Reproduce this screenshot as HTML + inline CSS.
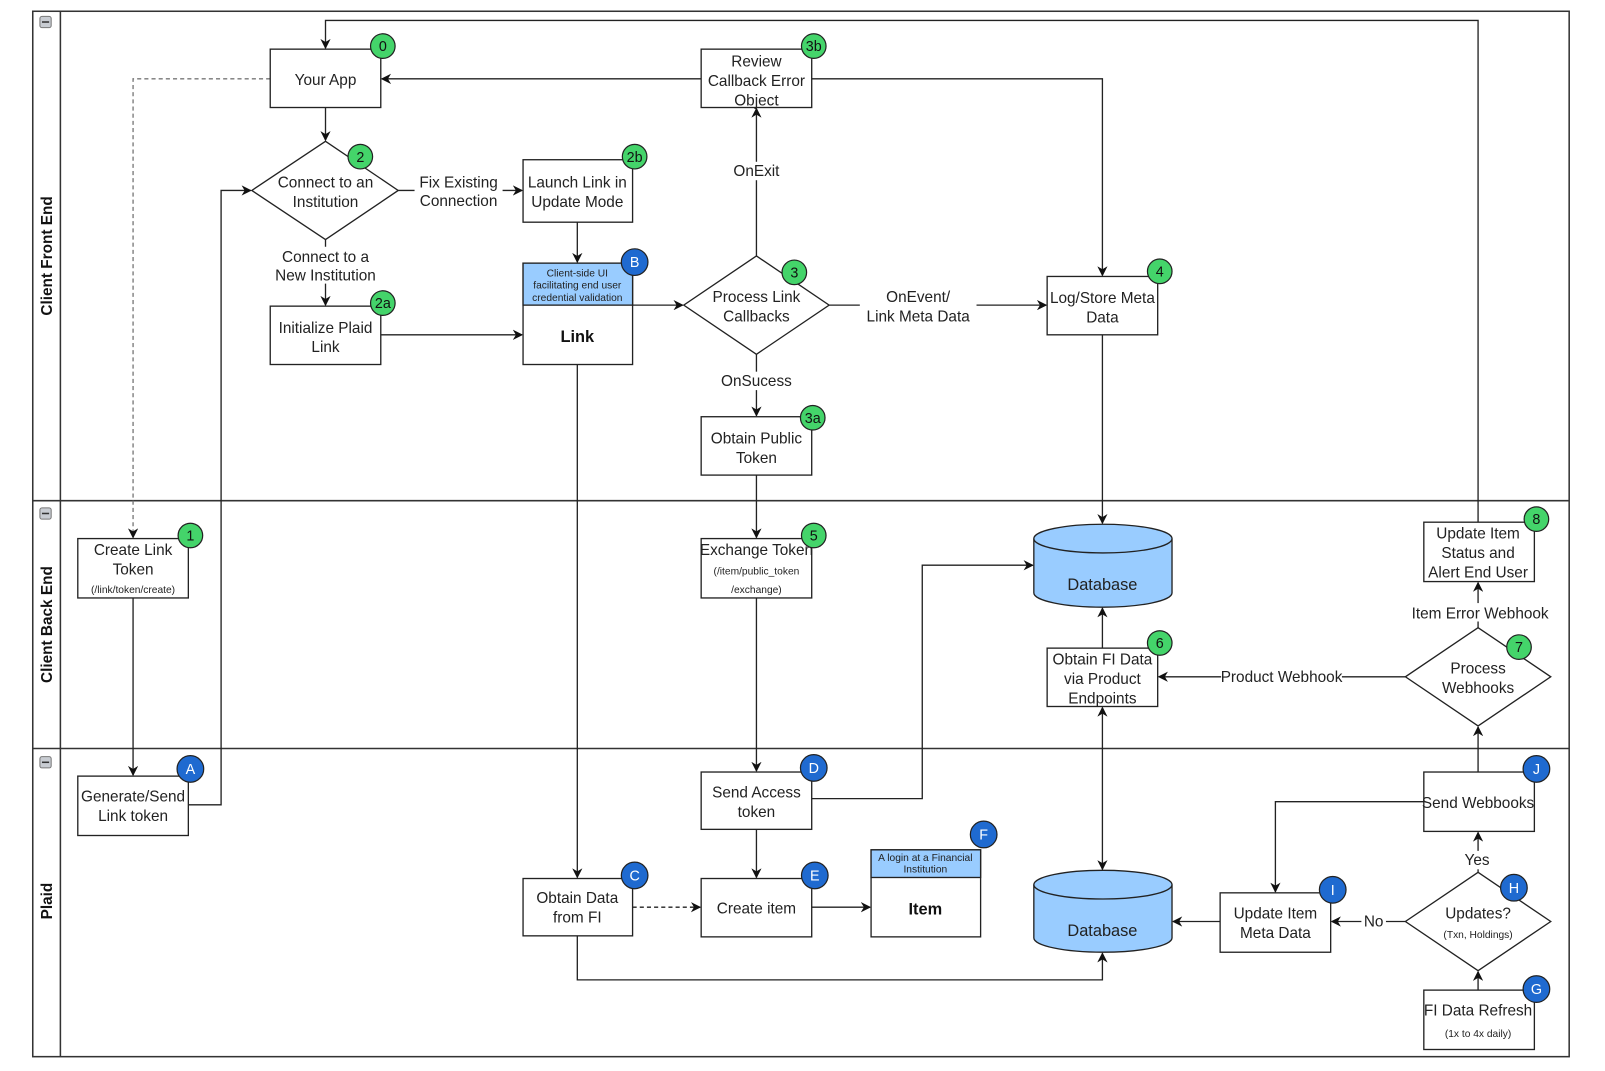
<!DOCTYPE html>
<html><head><meta charset="utf-8"><style>
html,body{margin:0;padding:0;background:#fff;}
svg{display:block;font-family:"Liberation Sans",Arial,sans-serif;}
.t{font-size:15px;fill:#222;text-anchor:middle;}
.s{font-size:10px;fill:#222;text-anchor:middle;}
.b{font-size:16px;font-weight:bold;fill:#111;text-anchor:middle;}
.bt{font-size:14px;fill:#111;text-anchor:middle;}
.bl{font-size:14px;fill:#fff;text-anchor:middle;}
.n{fill:#fff;stroke:#222;stroke-width:1.3;}
.l{fill:none;stroke:#222;stroke-width:1.3;}
.lane{font-size:15px;font-weight:bold;fill:#111;text-anchor:middle;}
</style></head><body>
<svg width="1605" height="1071" viewBox="0 0 1568 1046" preserveAspectRatio="none" xmlns="http://www.w3.org/2000/svg">
<defs>
<marker id="a" markerWidth="10" markerHeight="10" refX="9" refY="5" orient="auto" markerUnits="userSpaceOnUse">
<path d="M0,0 L10,5 L0,10 L3,5 Z" fill="#111"/></marker>
<marker id="as" markerWidth="10" markerHeight="10" refX="1" refY="5" orient="auto" markerUnits="userSpaceOnUse">
<path d="M10,0 L0,5 L10,10 L7,5 Z" fill="#111"/></marker>
</defs>
<!-- frame -->
<rect x="32" y="11" width="1501" height="1021" fill="#fff" stroke="#333" stroke-width="1.5"/>
<line x1="59" y1="11" x2="59" y2="1032" stroke="#333" stroke-width="1.5"/>
<line x1="32" y1="489" x2="1533" y2="489" stroke="#333" stroke-width="1.5"/>
<line x1="32" y1="731" x2="1533" y2="731" stroke="#333" stroke-width="1.5"/>
<g fill="#c8ccd2" stroke="#777" stroke-width="1">
<rect x="39" y="16" width="11" height="11" rx="2"/><rect x="39" y="496" width="11" height="11" rx="2"/><rect x="39" y="739" width="11" height="11" rx="2"/></g>
<g stroke="#333" stroke-width="1.5"><line x1="41" y1="21.5" x2="48" y2="21.5"/><line x1="41" y1="501.5" x2="48" y2="501.5"/><line x1="41" y1="744.5" x2="48" y2="744.5"/></g>
<text class="lane" transform="translate(51,250) rotate(-90)">Client Front End</text>
<text class="lane" transform="translate(51,610) rotate(-90)">Client Back End</text>
<text class="lane" transform="translate(51,880) rotate(-90)">Plaid</text>

<!-- connectors -->
<g class="l">
<polyline points="1444,510 1444,20 318,20 318,47" marker-end="url(#a)"/>
<polyline points="264,77 130,77 130,525" stroke-dasharray="4,3" stroke="#777" marker-end="url(#a)"/>
<line x1="318" y1="105" x2="318" y2="137" marker-end="url(#a)"/>
<line x1="685" y1="77" x2="373" y2="77" marker-end="url(#a)"/>
<polyline points="793,77 1077,77 1077,269" marker-end="url(#a)"/>
<line x1="389" y1="186" x2="510" y2="186" marker-end="url(#a)"/>
<line x1="318" y1="234" x2="318" y2="298" marker-end="url(#a)"/>
<polyline points="184,786 216,786 216,186 245,186" marker-end="url(#a)"/>
<line x1="130" y1="584" x2="130" y2="757" marker-end="url(#a)"/>
<line x1="564" y1="217" x2="564" y2="256" marker-end="url(#a)"/>
<line x1="372" y1="327" x2="510" y2="327" marker-end="url(#a)"/>
<line x1="618" y1="298" x2="667" y2="298" marker-end="url(#a)"/>
<line x1="564" y1="356" x2="564" y2="857" marker-end="url(#a)"/>
<line x1="739" y1="250" x2="739" y2="106" marker-end="url(#a)"/>
<line x1="810" y1="298" x2="1022" y2="298" marker-end="url(#a)"/>
<line x1="739" y1="346" x2="739" y2="406" marker-end="url(#a)"/>
<line x1="739" y1="464" x2="739" y2="525" marker-end="url(#a)"/>
<line x1="739" y1="584" x2="739" y2="753" marker-end="url(#a)"/>
<line x1="1077" y1="327" x2="1077" y2="511" marker-end="url(#a)"/>
<polyline points="793,780 901,780 901,552 1009,552" marker-end="url(#a)"/>
<line x1="739" y1="810" x2="739" y2="857" marker-end="url(#a)"/>
<line x1="618" y1="886" x2="684" y2="886" stroke-dasharray="4,3" marker-end="url(#a)"/>
<line x1="793" y1="886" x2="850" y2="886" marker-end="url(#a)"/>
<polyline points="564,914 564,957 1077,957 1077,931" marker-end="url(#a)"/>
<line x1="1077" y1="633" x2="1077" y2="594" marker-end="url(#a)"/>
<line x1="1077" y1="691" x2="1077" y2="849" marker-start="url(#as)" marker-end="url(#a)"/>
<line x1="1373" y1="661" x2="1132" y2="661" marker-end="url(#a)"/>
<line x1="1444" y1="613" x2="1444" y2="569" marker-end="url(#a)"/>
<line x1="1444" y1="754" x2="1444" y2="710" marker-end="url(#a)"/>
<polyline points="1391,783 1246,783 1246,871" marker-end="url(#a)"/>
<line x1="1444" y1="852" x2="1444" y2="813" marker-end="url(#a)"/>
<line x1="1373" y1="900" x2="1301" y2="900" marker-end="url(#a)"/>
<line x1="1192" y1="900" x2="1146" y2="900" marker-end="url(#a)"/>
<line x1="1444" y1="967" x2="1444" y2="949" marker-end="url(#a)"/>
</g>

<!-- connector labels -->
<g>
<rect x="405" y="168" width="86" height="36" fill="#fff"/>
<text class="t" x="448" y="183">Fix Existing</text><text class="t" x="448" y="201">Connection</text>
<rect x="268" y="241" width="100" height="36" fill="#fff"/>
<text class="t" x="318" y="256">Connect to a</text><text class="t" x="318" y="274">New Institution</text>
<rect x="712" y="158" width="54" height="18" fill="#fff"/>
<text class="t" x="739" y="172">OnExit</text>
<rect x="840" y="280" width="114" height="38" fill="#fff"/>
<text class="t" x="897" y="295">OnEvent/</text><text class="t" x="897" y="314">Link Meta Data</text>
<rect x="700" y="363" width="78" height="18" fill="#fff"/>
<text class="t" x="739" y="377">OnSucess</text>
<rect x="1193" y="652" width="118" height="18" fill="#fff"/>
<text class="t" x="1252" y="666">Product Webhook</text>
<rect x="1378" y="589" width="134" height="18" fill="#fff"/>
<text class="t" x="1446" y="604">Item Error Webhook</text>
<rect x="1428" y="831" width="30" height="18" fill="#fff"/>
<text class="t" x="1443" y="845">Yes</text>
<rect x="1330" y="891" width="24" height="18" fill="#fff"/>
<text class="t" x="1342" y="905">No</text>
</g>

<!-- nodes -->
<rect class="n" x="264" y="48" width="108" height="57"/>
<text class="t" x="318" y="83">Your App</text>
<rect class="n" x="685" y="48" width="108" height="57"/>
<text class="t" x="739" y="65">Review</text><text class="t" x="739" y="84">Callback Error</text><text class="t" x="739" y="103">Object</text>
<polygon class="n" points="318,138 389,186 318,234 246,186"/>
<text class="t" x="318" y="183">Connect to an</text><text class="t" x="318" y="202">Institution</text>
<rect class="n" x="511" y="156" width="107" height="61"/>
<text class="t" x="564" y="183">Launch Link in</text><text class="t" x="564" y="202">Update Mode</text>
<rect class="n" x="264" y="299" width="108" height="57"/>
<text class="t" x="318" y="325">Initialize Plaid</text><text class="t" x="318" y="344">Link</text>
<rect class="n" x="511" y="257" width="107" height="99"/>
<rect x="511" y="257" width="107" height="41" fill="#99ccff" stroke="#222" stroke-width="1.3"/>
<text class="s" x="564" y="270">Client-side UI</text><text class="s" x="564" y="282">facilitating end user</text><text class="s" x="564" y="294">credential validation</text>
<text class="b" x="564" y="334">Link</text>
<polygon class="n" points="739,250 810,298 739,346 668,298"/>
<text class="t" x="739" y="295">Process Link</text><text class="t" x="739" y="314">Callbacks</text>
<rect class="n" x="1023" y="270" width="108" height="57"/>
<text class="t" x="1077" y="296">Log/Store Meta</text><text class="t" x="1077" y="315">Data</text>
<rect class="n" x="685" y="407" width="108" height="57"/>
<text class="t" x="739" y="433">Obtain Public</text><text class="t" x="739" y="452">Token</text>
<rect class="n" x="76" y="526" width="108" height="58"/>
<text class="t" x="130" y="542">Create Link</text><text class="t" x="130" y="561">Token</text><text class="s" x="130" y="579">(/link/token/create)</text>
<rect class="n" x="685" y="526" width="108" height="58"/>
<text class="t" x="739" y="542">Exchange Token</text><text class="s" x="739" y="561">(/item/public_token</text><text class="s" x="739" y="579">/exchange)</text>
<rect class="n" x="1391" y="510" width="108" height="58"/>
<text class="t" x="1444" y="526">Update Item</text><text class="t" x="1444" y="545">Status and</text><text class="t" x="1444" y="564">Alert End User</text>
<rect class="n" x="1023" y="633" width="108" height="57"/>
<text class="t" x="1077" y="649">Obtain FI Data</text><text class="t" x="1077" y="668">via Product</text><text class="t" x="1077" y="687">Endpoints</text>
<polygon class="n" points="1444,613 1515,661 1444,709 1373,661"/>
<text class="t" x="1444" y="658">Process</text><text class="t" x="1444" y="677">Webhooks</text>
<rect class="n" x="76" y="758" width="108" height="58"/>
<text class="t" x="130" y="783">Generate/Send</text><text class="t" x="130" y="802">Link token</text>
<rect class="n" x="685" y="754" width="108" height="56"/>
<text class="t" x="739" y="779">Send Access</text><text class="t" x="739" y="798">token</text>
<rect class="n" x="1391" y="754" width="108" height="58"/>
<text class="t" x="1444" y="789">Send Webbooks</text>
<rect class="n" x="511" y="858" width="107" height="56"/>
<text class="t" x="564" y="882">Obtain Data</text><text class="t" x="564" y="901">from FI</text>
<rect class="n" x="685" y="858" width="108" height="57"/>
<text class="t" x="739" y="892">Create item</text>
<rect class="n" x="851" y="830" width="107" height="85"/>
<rect x="851" y="830" width="107" height="27" fill="#99ccff" stroke="#222" stroke-width="1.3"/>
<text class="s" x="904" y="841">A login at a Financial</text><text class="s" x="904" y="852">Institution</text>
<text class="b" x="904" y="893">Item</text>
<rect class="n" x="1192" y="872" width="108" height="58"/>
<text class="t" x="1246" y="897">Update Item</text><text class="t" x="1246" y="916">Meta Data</text>
<polygon class="n" points="1444,852 1515,900 1444,948 1373,900"/>
<text class="t" x="1444" y="897">Updates?</text><text class="s" x="1444" y="916">(Txn, Holdings)</text>
<rect class="n" x="1391" y="967" width="108" height="58"/>
<text class="t" x="1444" y="992">FI Data Refresh</text><text class="s" x="1444" y="1013">(1x to 4x daily)</text>

<!-- databases -->
<g fill="#99ccff" stroke="#222" stroke-width="1.3">
<path d="M1010,526 L1010,579 A67.5,14 0 0 0 1145,579 L1145,526"/>
<ellipse cx="1077.5" cy="526" rx="67.5" ry="14"/>
<path d="M1010,864 L1010,916 A67.5,14 0 0 0 1145,916 L1145,864"/>
<ellipse cx="1077.5" cy="864" rx="67.5" ry="14"/>
</g>
<text class="t" x="1077" y="576" style="font-size:16px">Database</text>
<text class="t" x="1077" y="914" style="font-size:16px">Database</text>

<!-- badges -->
<g stroke="#222" stroke-width="1.2">
<g fill="#44d46a">
<circle cx="374" cy="45" r="12"/><circle cx="795" cy="45" r="12"/><circle cx="352" cy="153" r="12"/>
<circle cx="620" cy="153" r="12"/><circle cx="374" cy="296" r="12"/><circle cx="776" cy="266" r="12"/>
<circle cx="1133" cy="265" r="12"/><circle cx="794" cy="408" r="12"/><circle cx="186" cy="523" r="12"/>
<circle cx="795" cy="523" r="12"/><circle cx="1501" cy="507" r="12"/><circle cx="1133" cy="628" r="12"/>
<circle cx="1484" cy="632" r="12"/></g>
<g fill="#1f6ad0">
<circle cx="620" cy="256" r="13"/><circle cx="186" cy="751" r="13"/><circle cx="795" cy="750" r="13"/>
<circle cx="1501" cy="751" r="13"/><circle cx="620" cy="855" r="13"/><circle cx="796" cy="855" r="13"/>
<circle cx="961" cy="815" r="13"/><circle cx="1302" cy="869" r="13"/><circle cx="1479" cy="867" r="13"/>
<circle cx="1501" cy="966" r="13"/></g>
</g>
<g>
<text class="bt" x="374" y="50">0</text><text class="bt" x="795" y="50">3b</text><text class="bt" x="352" y="158">2</text>
<text class="bt" x="620" y="158">2b</text><text class="bt" x="374" y="301">2a</text><text class="bt" x="776" y="271">3</text>
<text class="bt" x="1133" y="270">4</text><text class="bt" x="794" y="413">3a</text><text class="bt" x="186" y="528">1</text>
<text class="bt" x="795" y="528">5</text><text class="bt" x="1501" y="512">8</text><text class="bt" x="1133" y="633">6</text>
<text class="bt" x="1484" y="637">7</text>
<text class="bl" x="620" y="261">B</text><text class="bl" x="186" y="756">A</text><text class="bl" x="795" y="755">D</text>
<text class="bl" x="1501" y="756">J</text><text class="bl" x="620" y="860">C</text><text class="bl" x="796" y="860">E</text>
<text class="bl" x="961" y="820">F</text><text class="bl" x="1302" y="874">I</text><text class="bl" x="1479" y="872">H</text>
<text class="bl" x="1501" y="971">G</text>
</g>
</svg>
</body></html>
